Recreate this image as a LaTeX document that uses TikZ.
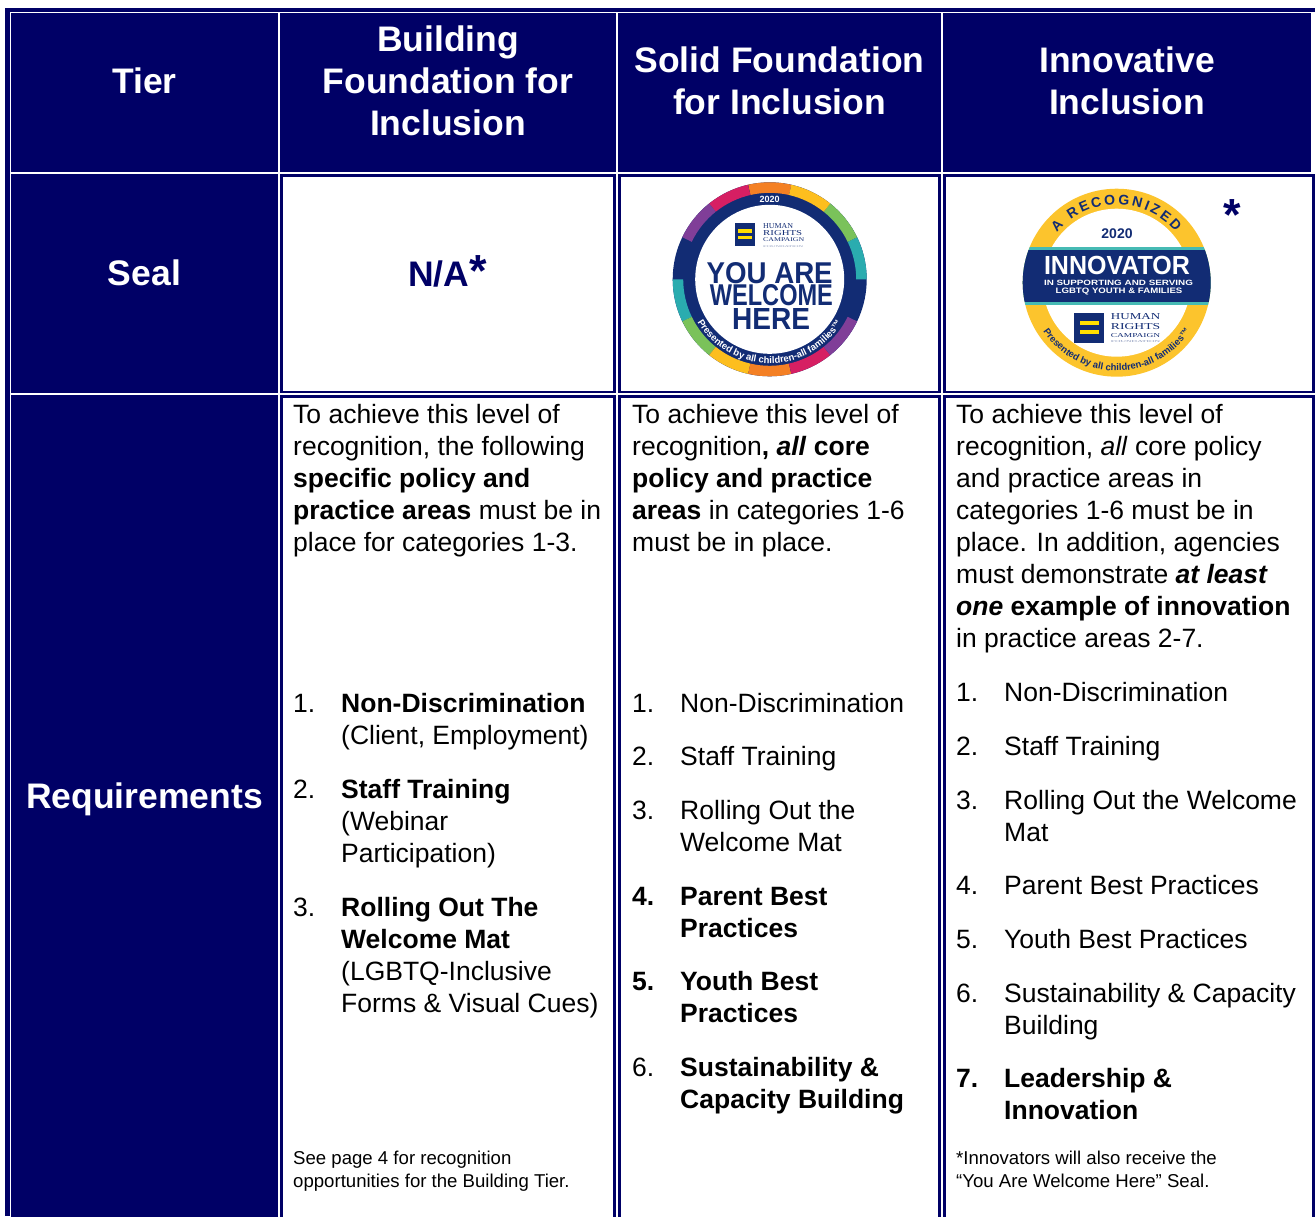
\documentclass[tikz,border=0pt]{standalone}
\usepackage{fontspec}
\usepackage{graphicx}
\setmainfont{Liberation Sans}
\usetikzlibrary{decorations.text}
\definecolor{tblnavy}{RGB}{0,0,102}
\definecolor{sealblue}{RGB}{18,44,116}
\definecolor{sorange}{RGB}{244,128,36}
\definecolor{smagenta}{RGB}{214,31,99}
\definecolor{spurple}{RGB}{128,62,152}
\definecolor{steal}{RGB}{42,172,175}
\definecolor{sgreen}{RGB}{122,194,90}
\definecolor{syellow}{RGB}{253,190,30}
\definecolor{gold}{RGB}{252,196,45}
\definecolor{bandteal}{RGB}{70,186,180}
\definecolor{hrcyellow}{RGB}{255,222,0}
\newcommand\wcell[4]{%
  \fill[tblnavy] (#1,#2) rectangle (#3,#4);
  \fill[white] ({#1+2.6},{#2+2.6}) rectangle ({#3-2.6},{#4-2.6});}
\newcommand\sealarc{\fontsize{9.5}{9.5}\selectfont\bfseries}
\newcommand\recfont{\fontsize{14}{14}\selectfont\bfseries}
\begin{document}
\begin{tikzpicture}[x=1pt,y=-1pt,
  hdr/.style={text=white, font=\fontsize{35.5}{42}\selectfont\bfseries, align=center, inner sep=0pt, anchor=north},
  lbl/.style={text=white, font=\fontsize{35.5}{42}\selectfont\bfseries, inner sep=0pt, anchor=base},
  body/.style={font=\fontsize{26.5}{32}\selectfont, inner sep=0pt, anchor=north west, align=left, text=black},
  foot/.style={font=\fontsize{18.6}{23}\selectfont, inner sep=0pt, anchor=north west, align=left, text=black},
  sealtxt/.style={inner sep=0pt, text=sealblue},
  hrctxt/.style={inner sep=0pt, text=sealblue, font=\fontspec{Liberation Serif}, anchor=west}]
\useasboundingbox (0,0) rectangle (1315,1216);
\clip (0,0) rectangle (1315,1216);
\fill[white] (0,0) rectangle (1315,1216);
\fill[tblnavy] (5,8) rectangle (1315,1216);
\fill[white] (10,12) rectangle (1315,1216);
% header row
\fill[tblnavy] (11.3,13.3) rectangle (278,172);
\fill[tblnavy] (280,13.3) rectangle (616,172);
\fill[tblnavy] (618,13.3) rectangle (941,172);
\fill[tblnavy] (943,13.3) rectangle (1311,172);
% first column
\fill[tblnavy] (11.3,174) rectangle (278,393.3);
\fill[tblnavy] (11.3,395) rectangle (278,1222);
% white cells
\wcell{280}{174}{616}{393.3}
\wcell{618}{174}{941}{393.3}
\wcell{943}{174}{1314.5}{393.3}
\wcell{280}{395}{616}{1222}
\wcell{618}{395}{941}{1222}
\wcell{943}{395}{1314.5}{1222}

% headers
\node[lbl] (tier) at (144.5,93) {Tier};
\node[hdr] (hbuild) at (448,21.6) {\strut Building\\Foundation for\\Inclusion};
\node[hdr] (hsolid) at (779.5,42.6) {\strut Solid Foundation\\for Inclusion};
\node[hdr] (hinnov) at (1127,42.6) {\strut Innovative\\Inclusion};
\node[lbl] (seal) at (144.5,285) {Seal};
\node[lbl] (req) at (144.5,808) {Requirements};

% N/A
\node[anchor=base, text=tblnavy, font=\fontsize{35.5}{42}\selectfont\bfseries, inner sep=0pt] (na) at (447.5,286) {N/A{\fontsize{45}{45}\selectfont *}};

% You Are Welcome Here seal
\begin{scope}[shift={(769.7,279.3)}, y=1pt]
  \fill[sealblue] (0,0) circle[radius=97];
  \foreach \a/\c in {77.1/sorange, 102.9/smagenta, 128.6/spurple, 180/steal, 205.7/sgreen, 231.4/syellow, 257.1/sorange, 282.9/smagenta, 308.6/spurple, 0/steal, 25.7/sgreen, 51.4/syellow}{
    \pgfmathsetmacro\b{\a+25.7}
    \fill[\c] (\a:97) arc[start angle=\a, end angle=\b, radius=97] -- (\b:86.5) arc[start angle=\b, end angle=\a, radius=86.5] -- cycle;}
  \fill[white] (0,0) circle[radius=74.5];
  \node[inner sep=0pt, text=white, font=\fontsize{9}{9}\selectfont\bfseries] (yyear) at (0,79.8) {2020};
  \fill[sealblue] (-34.7,33.3) rectangle (-14.7,56.6);
  \fill[hrcyellow] (-31.4,46.6) rectangle (-18,50);
  \fill[hrcyellow] (-31.4,40) rectangle (-18,43.3);
  \node[hrctxt] (yh1) at (-6.7,53.6) {\resizebox{30pt}{5pt}{HUMAN}};
  \node[hrctxt] (yh2) at (-6.7,46.6) {\resizebox{39pt}{5pt}{RIGHTS}};
  \node[hrctxt] (yh3) at (-6.7,39.3) {\resizebox{41pt}{3.8pt}{CAMPAIGN}};
  \node[hrctxt, text=sealblue!50] (yh4) at (-6.7,32.5) {\resizebox{40pt}{1.8pt}{FOUNDATION}};
  \node[sealtxt] (yl1) at (0,6.6) {\resizebox{126pt}{21pt}{\bfseries YOU ARE}};
  \node[sealtxt] (yl2) at (1.7,-15.7) {\resizebox{123pt}{21pt}{\bfseries WELCOME}};
  \node[sealtxt] (yl3) at (1.3,-40) {\resizebox{78pt}{21pt}{\bfseries HERE}};
  \path[decorate, decoration={text along path, text={|\sealarc\color{white}|Presented by all children-all families™}, text align=center}] (200:84) arc[start angle=200, end angle=340, radius=84];
\end{scope}

% Innovator seal
\begin{scope}[shift={(1116.7,282.7)}, y=1pt]
  \fill[gold] (0,0) circle[radius=94];
  \fill[white] (0,0) circle[radius=74];
  \begin{scope}
    \clip (0,0) circle[radius=94];
    \fill[bandteal] (-95,-22.3) rectangle (95,35.4);
    \fill[sealblue] (-95,-19) rectangle (95,32.7);
  \end{scope}
  \node[sealtxt, font=\fontsize{14}{14}\selectfont\bfseries] (iyear) at (0.3,48.7) {2020};
  \node[inner sep=0pt, text=white] (inn) at (0.3,16.9) {\resizebox{146pt}{18.3pt}{\bfseries INNOVATOR}};
  \node[inner sep=0pt, text=white] (isup) at (1.8,-0.6) {\resizebox{149pt}{5.3pt}{\bfseries IN SUPPORTING AND SERVING}};
  \node[inner sep=0pt, text=white] (ilgb) at (2.3,-9.3) {\resizebox{126.7pt}{5.5pt}{\bfseries LGBTQ YOUTH \& FAMILIES}};
  \fill[sealblue] (-42.7,-60) rectangle (-12.7,-30);
  \fill[hrcyellow] (-36.7,-42.3) rectangle (-17.4,-38.3);
  \fill[hrcyellow] (-36.7,-51.6) rectangle (-17.4,-47.3);
  \node[hrctxt] (ih1) at (-6,-33.6) {\resizebox{49.3pt}{6pt}{HUMAN}};
  \node[hrctxt] (ih2) at (-6,-43.6) {\resizebox{49.3pt}{6pt}{RIGHTS}};
  \node[hrctxt] (ih3) at (-6,-52.6) {\resizebox{49.3pt}{4pt}{CAMPAIGN}};
  \node[hrctxt, text=sealblue!50] (ih4) at (-6,-58.7) {\resizebox{49.3pt}{2pt}{FOUNDATION}};
  \path[decorate, decoration={text along path, text={|\recfont\color{sealblue}|A RECOGNIZED}, text align={fit to path}}] (140:78) arc[start angle=140, end angle=41, radius=78];
  \path[decorate, decoration={text along path, text={|\sealarc\color{sealblue}|Presented by all children-all families™}, text align=center}] (200:88) arc[start angle=200, end angle=340, radius=88];
\end{scope}
\node[anchor=base west, text=tblnavy, font=\fontsize{45}{45}\selectfont\bfseries, inner sep=0pt] (innast) at (1223.7,230.4) {*};

% Column 2 requirements
\node[body] (c2intro) at (293,400.6) {\strut To achieve this level of\\recognition, the following\\\textbf{specific policy and}\\\textbf{practice areas} must be in\\place for categories 1-3.};
\node[body] (c2n1) at (293,689.6) {\strut 1.};
\node[body] (c2t1) at (341,689.6) {\strut\textbf{Non-Discrimination}\\(Client, Employment)};
\node[body] (c2n2) at (293,775.6) {\strut 2.};
\node[body] (c2t2) at (341,775.6) {\strut\textbf{Staff Training}\\(Webinar\\Participation)};
\node[body] (c2n3) at (293,893.6) {\strut 3.};
\node[body] (c2t3) at (341,893.6) {\strut\textbf{Rolling Out The}\\\textbf{Welcome Mat}\\(LGBTQ-Inclusive\\Forms \& Visual Cues)};
\node[foot] (c2foot) at (293,1148.4) {\strut See page 4 for recognition\\opportunities for the Building Tier.};

% Column 3 requirements
\node[body] (c3intro) at (632,400.6) {\strut To achieve this level of\\recognition\textbf{, \textit{all} core}\\\textbf{policy and practice}\\\textbf{areas} in categories 1-6\\must be in place.};
\node[body] (c3n1) at (632,689.6) {\strut 1.};
\node[body] (c3t1) at (680,689.6) {\strut Non-Discrimination};
\node[body] (c3n2) at (632,742.6) {\strut 2.};
\node[body] (c3t2) at (680,742.6) {\strut Staff Training};
\node[body] (c3n3) at (632,796.6) {\strut 3.};
\node[body] (c3t3) at (680,796.6) {\strut Rolling Out the\\Welcome Mat};
\node[body] (c3n4) at (632,882.6) {\strut\textbf{4.}};
\node[body] (c3t4) at (680,882.6) {\strut\textbf{Parent Best}\\\textbf{Practices}};
\node[body] (c3n5) at (632,967.6) {\strut\textbf{5.}};
\node[body] (c3t5) at (680,967.6) {\strut\textbf{Youth Best}\\\textbf{Practices}};
\node[body] (c3n6) at (632,1053.6) {\strut 6.};
\node[body] (c3t6) at (680,1053.6) {\strut\textbf{Sustainability \&}\\\textbf{Capacity Building}};

% Column 4 requirements
\node[body] (c4intro) at (956,400.6) {\strut To achieve this level of\\recognition, \textit{all} core policy\\and practice areas in\\categories 1-6 must be in\\place. In addition, agencies\\must demonstrate \textbf{\textit{at least}}\\\textbf{\textit{one} example of innovation}\\in practice areas 2-7.};
\node[body] (c4n1) at (956,678.6) {\strut 1.};
\node[body] (c4t1) at (1004,678.6) {\strut Non-Discrimination};
\node[body] (c4n2) at (956,732.6) {\strut 2.};
\node[body] (c4t2) at (1004,732.6) {\strut Staff Training};
\node[body] (c4n3) at (956,786.6) {\strut 3.};
\node[body] (c4t3) at (1004,786.6) {\strut Rolling Out the Welcome\\Mat};
\node[body] (c4n4) at (956,871.6) {\strut 4.};
\node[body] (c4t4) at (1004,871.6) {\strut Parent Best Practices};
\node[body] (c4n5) at (956,925.6) {\strut 5.};
\node[body] (c4t5) at (1004,925.6) {\strut Youth Best Practices};
\node[body] (c4n6) at (956,979.6) {\strut 6.};
\node[body] (c4t6) at (1004,979.6) {\strut Sustainability \& Capacity\\Building};
\node[body] (c4n7) at (956,1064.6) {\strut\textbf{7.}};
\node[body] (c4t7) at (1004,1064.6) {\strut\textbf{Leadership \&}\\\textbf{Innovation}};
\node[foot] (c4foot) at (956,1148.4) {\strut *Innovators will also receive the\\“You Are Welcome Here” Seal.};
\end{tikzpicture}
\end{document}
